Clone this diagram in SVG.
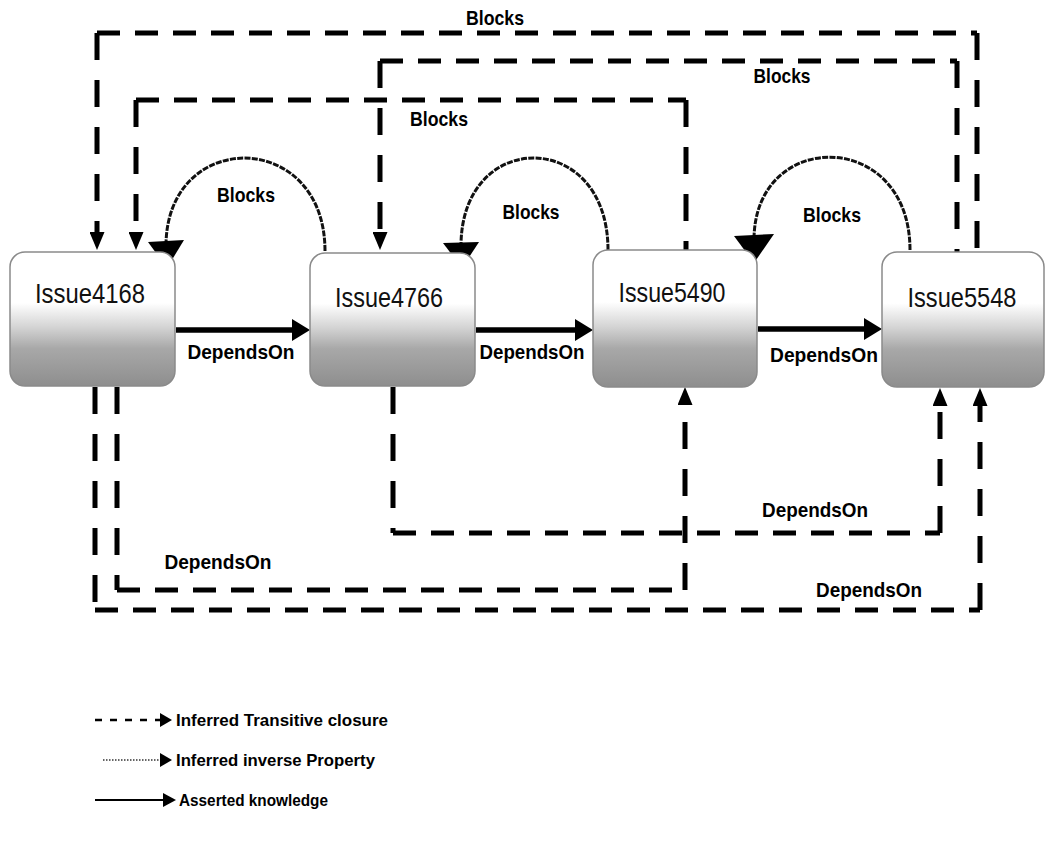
<svg xmlns="http://www.w3.org/2000/svg" width="1047" height="848" viewBox="0 0 1047 848">
  <style>
    .node-box { stroke: #8a8a8a; stroke-width: 1.5; fill: url(#nodeFill); }
    .node-label { font-family: "Liberation Sans", Arial, sans-serif; font-size: 27px; fill: #111; text-anchor: middle; }
    .label { font-family: "Liberation Sans", Arial, sans-serif; font-weight: bold; font-size: 21px; fill: #000; text-anchor: middle; }
    .legend-text { font-family: "Liberation Sans", Arial, sans-serif; font-weight: bold; font-size: 17px; fill: #000; }
    .closure { fill: none; stroke: #000; stroke-width: 5; }
    .h { stroke-dasharray: 23 15; }
    .v { stroke-dasharray: 27 20; }
    .asserted { fill: none; stroke: #000; stroke-width: 5.5; marker-end: url(#solidHead); }
    .inverse { fill: none; stroke: #111; stroke-width: 3; stroke-dasharray: 6 1.3; }
    .head { fill: #000; }
  </style>
  <defs>
    <linearGradient id="nodeFill" x1="0" y1="0" x2="0" y2="1">
      <stop offset="0" stop-color="#ffffff"/>
      <stop offset="0.38" stop-color="#ffffff"/>
      <stop offset="0.56" stop-color="#d4d4d4"/>
      <stop offset="0.72" stop-color="#a8a8a8"/>
      <stop offset="1" stop-color="#8e8e8e"/>
    </linearGradient>
    <!-- head for the asserted (solid) DependsOn arrows -->
    <marker id="solidHead" markerUnits="userSpaceOnUse" viewBox="0 0 18 22" markerWidth="18" markerHeight="22" refX="4" refY="11" orient="auto">
      <path d="M0,0 L18,11 L0,22 z" fill="#000"/>
    </marker>
    <!-- head for the inferred transitive (dashed) arrows -->
    <marker id="dashHead" markerUnits="userSpaceOnUse" viewBox="0 0 18 15" markerWidth="18" markerHeight="15" refX="6" refY="7.5" orient="auto">
      <path d="M0,0 L18,7.5 L0,15 z" fill="#000"/>
    </marker>
  </defs>

  <rect width="1047" height="848" fill="#ffffff"/>

  <!-- connectors -->
  <g id="connectors">
    <!-- Blocks: Issue5548 -> Issue4168 (outer) -->
    <g id="blocks-5548-4168">
      <path class="closure h" d="M97,33 L977,33"/>
      <path class="closure v" d="M977,33 L977,252"/>
      <path class="closure v" d="M97,33 L97,238" marker-end="url(#dashHead)"/>
      <text class="label" x="495" y="25" textLength="58" lengthAdjust="spacingAndGlyphs">Blocks</text>
    </g>
    <!-- Blocks: Issue5548 -> Issue4766 -->
    <g id="blocks-5548-4766">
      <path class="closure h" d="M380,61 L957,61"/>
      <path class="closure v" d="M957,61 L957,252"/>
      <path class="closure v" d="M380,61 L380,238" marker-end="url(#dashHead)"/>
      <text class="label" x="782" y="83" textLength="57" lengthAdjust="spacingAndGlyphs">Blocks</text>
    </g>
    <!-- Blocks: Issue5490 -> Issue4168 -->
    <g id="blocks-5490-4168">
      <path class="closure h" d="M136,100 L686,100"/>
      <path class="closure v" d="M686,100 L686,250"/>
      <path class="closure v" d="M136,100 L136,238" marker-end="url(#dashHead)"/>
      <text class="label" x="439" y="126" textLength="58" lengthAdjust="spacingAndGlyphs">Blocks</text>
    </g>

    <!-- DependsOn: Issue4168 -> Issue5548 (outer) -->
    <g id="depends-4168-5548">
      <path class="closure v" d="M95,387 L95,610"/>
      <path class="closure h" d="M95,610 L980,610"/>
      <path class="closure v" d="M980,610 L980,400" marker-end="url(#dashHead)"/>
      <text class="label" x="869" y="597" textLength="106" lengthAdjust="spacingAndGlyphs">DependsOn</text>
    </g>
    <!-- DependsOn: Issue4168 -> Issue5490 -->
    <g id="depends-4168-5490">
      <path class="closure v" d="M117,387 L117,590"/>
      <path class="closure h" d="M117,590 L685,590"/>
      <path class="closure v" d="M685,590 L685,399" marker-end="url(#dashHead)"/>
      <text class="label" x="218" y="569" textLength="107" lengthAdjust="spacingAndGlyphs">DependsOn</text>
    </g>
    <!-- DependsOn: Issue4766 -> Issue5548 -->
    <g id="depends-4766-5548">
      <path class="closure v" d="M393,387 L393,533"/>
      <path class="closure h" d="M393,533 L940,533"/>
      <path class="closure v" d="M940,533 L940,400" marker-end="url(#dashHead)"/>
      <text class="label" x="815" y="517" textLength="106" lengthAdjust="spacingAndGlyphs">DependsOn</text>
    </g>

    <!-- asserted DependsOn chain -->
    <path class="asserted" d="M176,330 L296,330"/>
    <text class="label" x="241" y="359" textLength="107" lengthAdjust="spacingAndGlyphs">DependsOn</text>
    <path class="asserted" d="M476,330 L579,330"/>
    <text class="label" x="532" y="359" textLength="105" lengthAdjust="spacingAndGlyphs">DependsOn</text>
    <path class="asserted" d="M758,329 L868,329"/>
    <text class="label" x="824" y="362" textLength="108" lengthAdjust="spacingAndGlyphs">DependsOn</text>

    <!-- inferred inverse Blocks arcs -->
    <path class="inverse" d="M325,251 C325,128 166,128 166,246"/>
    <polygon class="head" points="148,242 184,240 167,268"/>
    <text class="label" x="246" y="202" textLength="58" lengthAdjust="spacingAndGlyphs">Blocks</text>

    <path class="inverse" d="M608,250 C608,128 461,128 461,246"/>
    <polygon class="head" points="443,243 479,242 462,268"/>
    <text class="label" x="531" y="219" textLength="57" lengthAdjust="spacingAndGlyphs">Blocks</text>

    <path class="inverse" d="M910,250 C910,128 754,128 754,240"/>
    <polygon class="head" points="734,236 774,234 754,263"/>
    <text class="label" x="832" y="222" textLength="58" lengthAdjust="spacingAndGlyphs">Blocks</text>
  </g>

  <!-- nodes -->
  <g id="issue4168">
    <rect class="node-box" x="10" y="252" width="165" height="134" rx="15"/>
    <text class="node-label" x="90" y="303" textLength="110" lengthAdjust="spacingAndGlyphs">Issue4168</text>
  </g>
  <g id="issue4766">
    <rect class="node-box" x="310" y="253" width="165" height="133" rx="15"/>
    <text class="node-label" x="389" y="307" textLength="108" lengthAdjust="spacingAndGlyphs">Issue4766</text>
  </g>
  <g id="issue5490">
    <rect class="node-box" x="593" y="250" width="164" height="137" rx="15"/>
    <text class="node-label" x="672" y="302" textLength="107" lengthAdjust="spacingAndGlyphs">Issue5490</text>
  </g>
  <g id="issue5548">
    <rect class="node-box" x="882" y="252" width="162" height="135" rx="15"/>
    <text class="node-label" x="962" y="307" textLength="109" lengthAdjust="spacingAndGlyphs">Issue5548</text>
  </g>

  <!-- legend -->
  <g id="legend">
    <path d="M95,720 L160,720" fill="none" stroke="#000" stroke-width="2.5" stroke-dasharray="7 8"/>
    <polygon class="head" points="160,713 172,720 160,727"/>
    <text class="legend-text" x="176" y="726" textLength="212" lengthAdjust="spacingAndGlyphs">Inferred Transitive closure</text>

    <path d="M103,760 L160,760" fill="none" stroke="#333" stroke-width="1.5" stroke-dasharray="1.5 1.5"/>
    <polygon class="head" points="160,753 172,760 160,767"/>
    <text class="legend-text" x="176" y="766" textLength="199" lengthAdjust="spacingAndGlyphs">Inferred inverse Property</text>

    <path d="M95,800 L164,800" fill="none" stroke="#000" stroke-width="2"/>
    <polygon class="head" points="163,793 176,800 163,807"/>
    <text class="legend-text" x="179" y="806" textLength="149" lengthAdjust="spacingAndGlyphs">Asserted knowledge</text>
  </g>
</svg>
